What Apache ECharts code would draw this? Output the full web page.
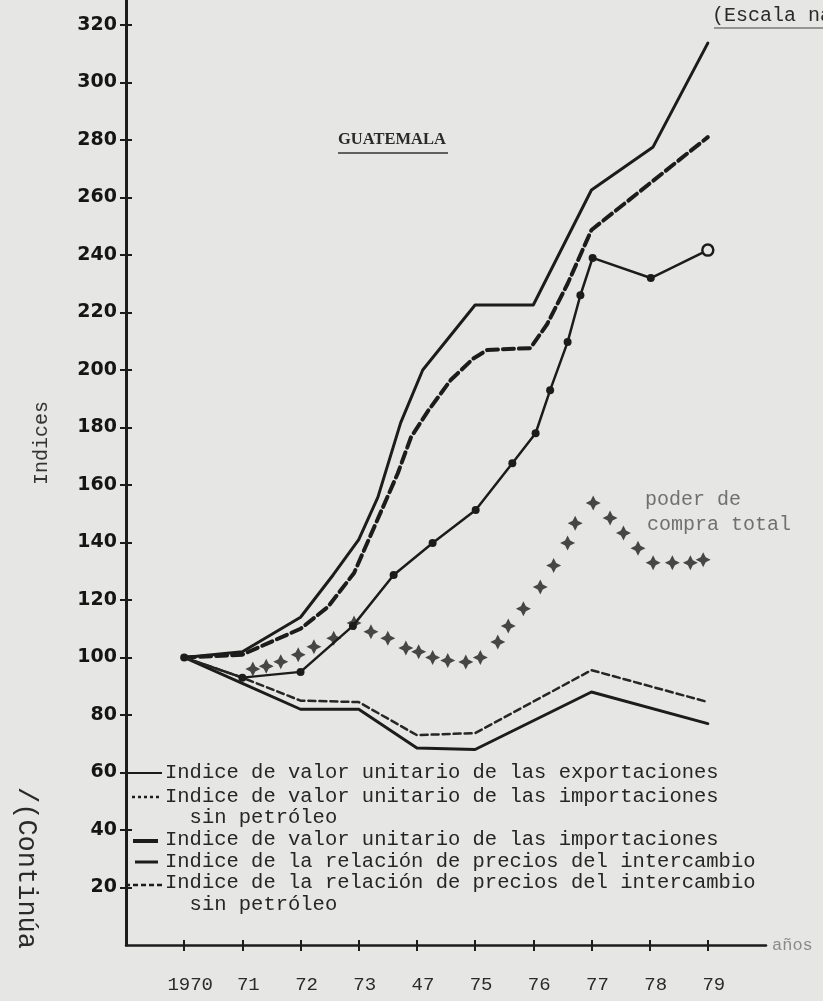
<!DOCTYPE html>
<html>
<head>
<meta charset="utf-8">
<script src="https://cdn.jsdelivr.net/npm/echarts@6/dist/echarts.min.js"></script>
<style>
  html, body { margin: 0; padding: 0; background: #e6e6e4; }
  #chart { width: 823px; height: 1001px; }
</style>
</head>
<body>
<div id="chart"></div>
<script>
// tick labels as printed on the original
const xTicks = [1970, 1971, 1972, 1973, 1974, 1975, 1976, 1977, 1978, 1979];
const xLabels = ['1970', '71', '72', '73', '47', '75', '76', '77', '78', '79'];
const yTicks = [20, 40, 60, 80, 100, 120, 140, 160, 180, 200, 220, 240, 260, 280, 300, 320];

// Indice de valor unitario de las exportaciones
const exportYears = [1970, 1971, 1972, 1972.56, 1973, 1973.33, 1973.72, 1974.1, 1975, 1976, 1977, 1978.06, 1979];
const exportValues = [100, 102, 114, 128.7, 141, 155.8, 181.6, 200, 222.6, 222.6, 262.6, 277.6, 313.7];

// Indice de valor unitario de las importaciones sin petróleo
const importNoOilYears = [1970, 1971, 1972, 1972.47, 1972.92, 1973.67, 1973.9, 1974.2, 1974.58, 1974.97, 1975.21, 1975.95, 1976.24, 1976.59, 1977, 1979];
const importNoOilValues = [100, 101, 110, 117.6, 129.4, 164, 176.7, 186, 196.5, 204, 207, 207.6, 216, 230, 248.7, 281];

// Indice de valor unitario de las importaciones
const importYears = [1970, 1971, 1972, 1972.9, 1973.6, 1974.27, 1975.01, 1975.64, 1976.04, 1976.29, 1976.59, 1976.81, 1977.02, 1978.02, 1979];
const importValues = [100, 93, 95, 111, 128.7, 139.8, 151.3, 167.6, 178, 193, 209.7, 226, 239, 232, 241.7];

// Indice de la relación de precios del intercambio
const tradeYears = [1970, 1971, 1972, 1973, 1974, 1975, 1977, 1979];
const tradeValues = [100, 91, 82, 82, 68.5, 68, 88, 77];

// Indice de la relación de precios del intercambio sin petróleo
const tradeNoOilYears = [1970, 1971, 1972, 1973, 1974, 1975, 1977, 1979];
const tradeNoOilValues = [100, 93, 85, 84.5, 73, 73.7, 95.6, 84.5];

// poder de compra total
const powerYears = [1971.18, 1971.41, 1971.66, 1971.96, 1972.23, 1972.57, 1972.92, 1973.21, 1973.5, 1973.81,
  1974.03, 1974.27, 1974.53, 1974.84, 1975.09, 1975.39, 1975.57, 1975.83, 1976.12, 1976.35,
  1976.59, 1976.72, 1977.03, 1977.32, 1977.55, 1977.8, 1978.06, 1978.39, 1978.7, 1978.92];
const powerValues = [96, 97, 98.5, 101, 103.7, 106.7, 112, 109, 106.7, 103.3,
  102, 100, 99, 98.4, 100, 105.4, 111, 117, 124.5, 132,
  139.8, 146.7, 153.7, 148.5, 143.3, 138, 133, 133, 133, 134];

const legendLines = [
  'Indice de valor unitario de las exportaciones',
  'Indice de valor unitario de las importaciones',
  '  sin petróleo',
  'Indice de valor unitario de las importaciones',
  'Indice de la relación de precios del intercambio',
  'Indice de la relación de precios del intercambio',
  '  sin petróleo'
];
// vertical centre of each typed legend line
const legendRows = [773, 797, 818, 840, 862, 883, 905];

function pairs(xs, ys) {
  return xs.map((x, i) => [x, ys[i]]);
}

const ink = '#1c1c1c';
const mono = '"Liberation Mono", "DejaVu Sans Mono", monospace';

const chart = echarts.init(document.getElementById('chart'));

// legend drawn by hand, like the typed key on the original
const legendGraphics = legendLines.map((t, i) => ({
  type: 'text',
  x: 165,
  y: legendRows[i],
  style: { text: t, font: '20.5px ' + mono, fill: '#262626', verticalAlign: 'middle' }
}));
const keyStyles = [
  { y: 773, x1: 128, x2: 162, width: 2, dash: null },
  { y: 797, x1: 132, x2: 162, width: 2.5, dash: [3, 3] },
  { y: 841, x1: 133, x2: 158, width: 4, dash: null },
  { y: 862, x1: 135, x2: 158, width: 3, dash: null },
  { y: 885, x1: 125, x2: 162, width: 2.5, dash: [5, 3] }
];
keyStyles.forEach(k => {
  legendGraphics.push({
    type: 'line',
    shape: { x1: k.x1, y1: k.y, x2: k.x2, y2: k.y },
    style: { stroke: ink, lineWidth: k.width, lineDash: k.dash }
  });
});

const option = {
  backgroundColor: '#e6e6e4',
  animation: false,
  grid: { left: 126, right: 57, top: 0, bottom: 56 },
  xAxis: [
    {
      type: 'value',
      min: 1969,
      max: 1980,
      interval: 1,
      splitLine: { show: false },
      axisLine: { lineStyle: { color: ink, width: 2.5 } },
      axisTick: { customValues: xTicks, length: 6, lineStyle: { color: ink, width: 2 } },
      axisLabel: {
        customValues: xTicks,
        formatter: v => xLabels[xTicks.indexOf(Math.round(v))] || '',
        margin: 30,
        padding: [0, 0, 0, 12],
        color: '#2a2a2a',
        fontFamily: mono,
        fontSize: 19
      },
      name: 'años',
      nameLocation: 'end',
      nameGap: 6,
      nameTextStyle: { color: '#8a8a8a', fontFamily: mono, fontSize: 17, padding: [16, 0, 0, 0] }
    },
    {
      type: 'value',
      position: 'bottom',
      min: 1969,
      max: 1980,
      interval: 1,
      splitLine: { show: false },
      axisLine: { show: false },
      axisTick: { customValues: xTicks, inside: true, length: 5, lineStyle: { color: ink, width: 2 } },
      axisLabel: { show: false }
    }
  ],
  yAxis: [
    {
      type: 'value',
      min: 0,
      max: 328.7,
      interval: 20,
      splitLine: { show: false },
      axisLine: { lineStyle: { color: ink, width: 3 } },
      axisTick: { customValues: yTicks, length: 6, lineStyle: { color: ink, width: 2 } },
      axisLabel: {
        customValues: yTicks,
        margin: 9,
        padding: [0, 0, 10, 0],
        color: '#151515',
        fontFamily: '"DejaVu Sans", sans-serif',
        fontWeight: 'bold',
        fontSize: 19
      }
    },
    {
      type: 'value',
      position: 'left',
      min: 0,
      max: 328.7,
      interval: 20,
      splitLine: { show: false },
      axisLine: { show: false },
      axisTick: { customValues: yTicks, inside: true, length: 6, lineStyle: { color: ink, width: 2 } },
      axisLabel: { show: false }
    }
  ],
  series: [
    {
      name: 'Indice de valor unitario de las exportaciones',
      type: 'line',
      data: pairs(exportYears, exportValues),
      showSymbol: false,
      lineStyle: { color: ink, width: 3, cap: 'round', join: 'round' }
    },
    {
      name: 'Indice de valor unitario de las importaciones sin petróleo',
      type: 'line',
      data: pairs(importNoOilYears, importNoOilValues),
      showSymbol: false,
      lineStyle: { color: ink, width: 4, type: [11, 5], cap: 'round', join: 'round' }
    },
    {
      name: 'Indice de valor unitario de las importaciones',
      type: 'line',
      data: pairs(importYears, importValues).map((p, i, arr) => i === arr.length - 1
        ? { value: p, symbolSize: 11, itemStyle: { color: '#e6e6e4', borderColor: ink, borderWidth: 2.5 } }
        : p),
      symbol: 'circle',
      symbolSize: 8,
      itemStyle: { color: ink },
      lineStyle: { color: ink, width: 2.5, cap: 'round', join: 'round' }
    },
    {
      name: 'Indice de la relación de precios del intercambio',
      type: 'line',
      data: pairs(tradeYears, tradeValues),
      showSymbol: false,
      lineStyle: { color: ink, width: 3, cap: 'round', join: 'round' }
    },
    {
      name: 'Indice de la relación de precios del intercambio sin petróleo',
      type: 'line',
      data: pairs(tradeNoOilYears, tradeNoOilValues),
      showSymbol: false,
      lineStyle: { color: '#262626', width: 2.5, type: [7, 4], cap: 'round', join: 'round' }
    },
    {
      name: 'poder de compra total',
      type: 'scatter',
      data: pairs(powerYears, powerValues),
      symbol: 'path://M0,-6 L2,-2 L6,0 L2,2 L0,6 L-2,2 L-6,0 L-2,-2 Z',
      symbolSize: 15,
      itemStyle: { color: '#1e1e1e' }
    }
  ],
  graphic: [
    {
      type: 'text',
      left: 338,
      top: 131,
      style: { text: 'GUATEMALA', font: 'bold 16.5px "Liberation Serif", serif', fill: '#2a2a2a' }
    },
    {
      type: 'line',
      shape: { x1: 338, y1: 153, x2: 448, y2: 153 },
      style: { stroke: '#333', lineWidth: 1.5 }
    },
    {
      type: 'text',
      left: 712,
      top: 6,
      style: { text: '(Escala natural)', font: '20px ' + mono, fill: '#2a2a2a' }
    },
    {
      type: 'line',
      shape: { x1: 714, y1: 28, x2: 823, y2: 28 },
      style: { stroke: '#444', lineWidth: 1 }
    },
    {
      type: 'text',
      x: 42,
      y: 443,
      rotation: Math.PI / 2,
      style: { text: 'Indices', font: '20px ' + mono, fill: '#333', align: 'center', verticalAlign: 'middle' }
    },
    {
      type: 'text',
      x: 26,
      y: 868,
      rotation: -Math.PI / 2,
      style: { text: '/(Continúa', font: '27px ' + mono, fill: '#2a2a2a', align: 'center', verticalAlign: 'middle' }
    },
    {
      type: 'text',
      x: 645,
      y: 500,
      style: { text: 'poder de', font: '20px ' + mono, fill: '#707070', verticalAlign: 'middle' }
    },
    {
      type: 'text',
      x: 647,
      y: 525,
      style: { text: 'compra total', font: '20px ' + mono, fill: '#707070', verticalAlign: 'middle' }
    }
  ].concat(legendGraphics)
};

chart.setOption(option);
</script>
</body>
</html>
